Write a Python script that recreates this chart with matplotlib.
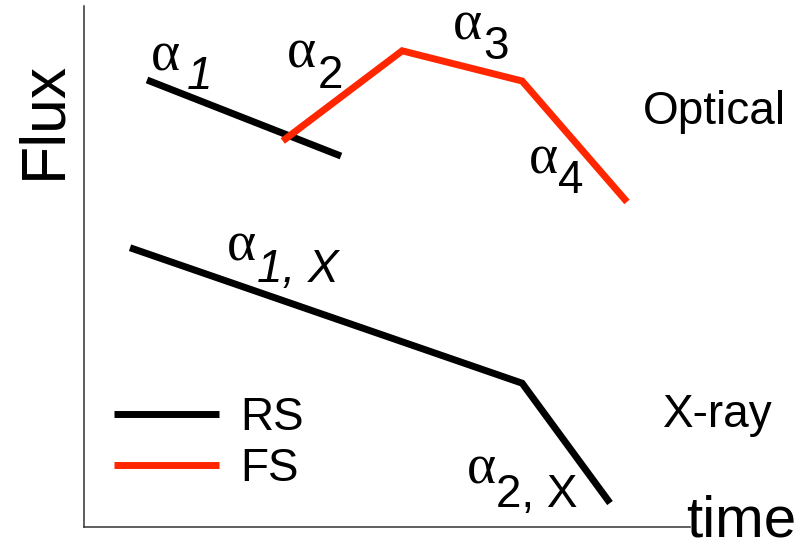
import numpy as np
import matplotlib.pyplot as plt

# schematic light curves (arbitrary units)
rs_opt_t = [1.04, 4.24]
rs_opt_f = [8.58, 7.12]
fs_opt_t = [3.28, 5.25, 7.23, 8.96]
fs_opt_f = [7.41, 9.14, 8.56, 6.24]
rs_x_t = [0.76, 7.23, 8.68]
rs_x_f = [5.36, 2.76, 0.46]

RED = '#ff2600'

fig = plt.figure(figsize=(8.04, 5.5), dpi=100)
ax = fig.add_axes([84 / 804, 23 / 550, 606 / 804, 521 / 550])
ax.set_xlim(0, 10)
ax.set_ylim(0, 10)

for s in ['top', 'right']:
    ax.spines[s].set_visible(False)
for s in ['left', 'bottom']:
    ax.spines[s].set_color('#333333')
    ax.spines[s].set_linewidth(1.1)
ax.set_xticks([])
ax.set_yticks([])

kw = dict(lw=5, solid_capstyle='butt', solid_joinstyle='miter')
rs_line, = ax.plot(rs_opt_t, rs_opt_f, color='black', label='RS', **kw)
fs_line, = ax.plot(fs_opt_t, fs_opt_f, color=RED, label='FS', zorder=3, **kw)
ax.plot(rs_x_t, rs_x_f, color='black', **kw)

sans = 'Liberation Sans'
serif = 'Liberation Serif'


def slope_label(x, y, sub, dx, dy, style='normal'):
    ax.text(x, y, '\u03b1', family=serif, fontsize=40, ha='left', va='baseline')
    ax.annotate(sub, (x, y), xytext=(dx, dy), textcoords='offset pixels',
                family=sans, fontsize=33, style=style, ha='left', va='baseline')


slope_label(1.11, 8.77, '1', 36, -19, 'italic')
slope_label(3.35, 8.81, '2', 31, -20)
slope_label(6.09, 9.36, '3', 30, -20)
slope_label(7.34, 6.79, '4', 29, -20)
slope_label(2.36, 5.12, '1, X', 30, -22, 'italic')
slope_label(6.31, 0.84, '2, X', 30, -24)

ax.text(0.922, 0.774, 'Optical', transform=ax.transAxes, family=sans,
        fontsize=33, ha='left', va='baseline')
ax.text(0.955, 0.192, 'X-ray', transform=ax.transAxes, family=sans,
        fontsize=33, ha='left', va='baseline')

ax.text(-0.066, 0.781, 'Flux', transform=ax.transAxes, family=sans,
        fontsize=45, rotation=90, ha='center', va='center')
ax.text(1.084, -0.018, 'time', transform=ax.transAxes, family=sans,
        fontsize=42, ha='center', va='baseline', clip_on=False)

ax.legend(handles=[rs_line, fs_line], loc='lower left',
          bbox_to_anchor=(30 / 606, 36 / 521), frameon=False,
          prop={'family': sans, 'size': 33}, handlelength=2.3,
          handletextpad=0.46, labelspacing=0.15, borderpad=0,
          borderaxespad=0)

fig.savefig('out.png', dpi=100)
